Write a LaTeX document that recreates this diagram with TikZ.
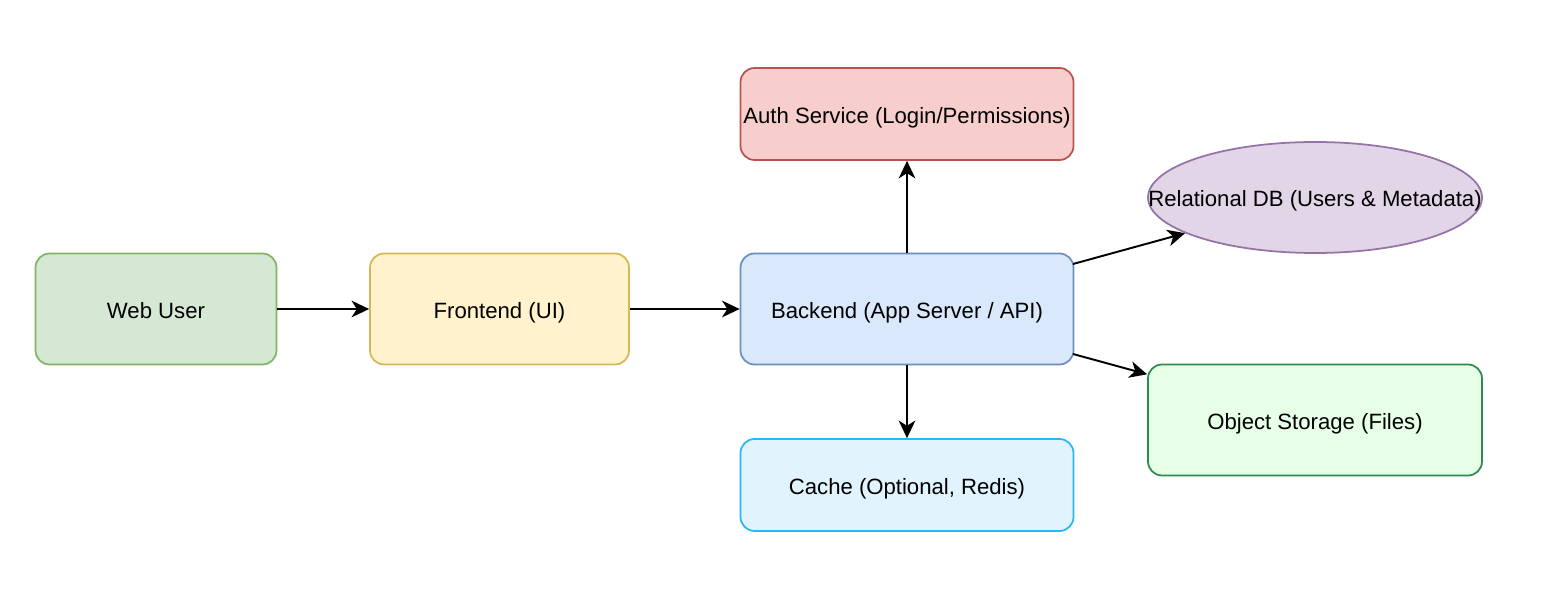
\documentclass[tikz,border=0pt]{standalone}
\usepackage{fontspec}
\setmainfont{Liberation Sans}
\usetikzlibrary{arrows.meta,shapes.geometric}
\definecolor{webF}{HTML}{D5E8D4}\definecolor{webD}{HTML}{82B366}
\definecolor{frF}{HTML}{FFF2CC}\definecolor{frD}{HTML}{D6B656}
\definecolor{beF}{HTML}{DAE8FC}\definecolor{beD}{HTML}{6C8EBF}
\definecolor{auF}{HTML}{F8CECC}\definecolor{auD}{HTML}{B85450}
\definecolor{caF}{HTML}{E1F3FC}\definecolor{caD}{HTML}{29B6F6}
\definecolor{dbF}{HTML}{E1D5E7}\definecolor{dbD}{HTML}{9673A6}
\definecolor{osF}{HTML}{E6FFE6}\definecolor{osD}{HTML}{2D8A50}
\tikzset{
  txt/.style={font=\fontsize{12.6pt}{15pt}\selectfont, text=black, text height=10.4pt, text depth=0pt},
  box/.style={rectangle, rounded corners=8pt, line width=1pt, inner sep=0pt, txt},
  conn/.style={-{Stealth[length=10pt,width=9.5pt,inset=3pt]}, line width=1.1pt, black},
}
\begin{document}
\begin{tikzpicture}[x=0.02cm,y=-0.02cm]
\useasboundingbox (0,0) rectangle (1568,614);
\node[box, fill=webF, draw=webD, minimum width=241*0.02cm, minimum height=111*0.02cm] (web) at (156,309) {Web User};
\node[box, fill=frF, draw=frD, minimum width=259*0.02cm, minimum height=111*0.02cm] (front) at (499.5,309) {Frontend (UI)};
\node[box, fill=beF, draw=beD, minimum width=333*0.02cm, minimum height=111*0.02cm] (back) at (907,309) {Backend (App Server / API)};
\node[box, fill=auF, draw=auD, minimum width=333*0.02cm, minimum height=92*0.02cm] (auth) at (907,114) {Auth Service (Login/Permissions)};
\node[box, fill=caF, draw=caD, minimum width=333*0.02cm, minimum height=92*0.02cm] (cache) at (907,485) {Cache (Optional, Redis)};
\node[box, ellipse, fill=dbF, draw=dbD, minimum width=334*0.02cm, minimum height=111*0.02cm,
  label={[txt, inner sep=0pt]center:Relational DB (Users \& Metadata)}] (db) at (1315,197.5) {};
\node[box, fill=osF, draw=osD, minimum width=334*0.02cm, minimum height=111*0.02cm] (os) at (1315,420) {Object Storage (Files)};
\coordinate (bdb) at (1073,264);
\coordinate (bos) at (1073,354);
\draw[conn] (web.east) -- (front.west);
\draw[conn] (front.east) -- (back.west);
\draw[conn] (back.north) -- (auth.south);
\draw[conn] (back.south) -- (cache.north);
\draw[conn] (bdb) -- (db);
\draw[conn] (bos) -- (os);
\end{tikzpicture}
\end{document}
